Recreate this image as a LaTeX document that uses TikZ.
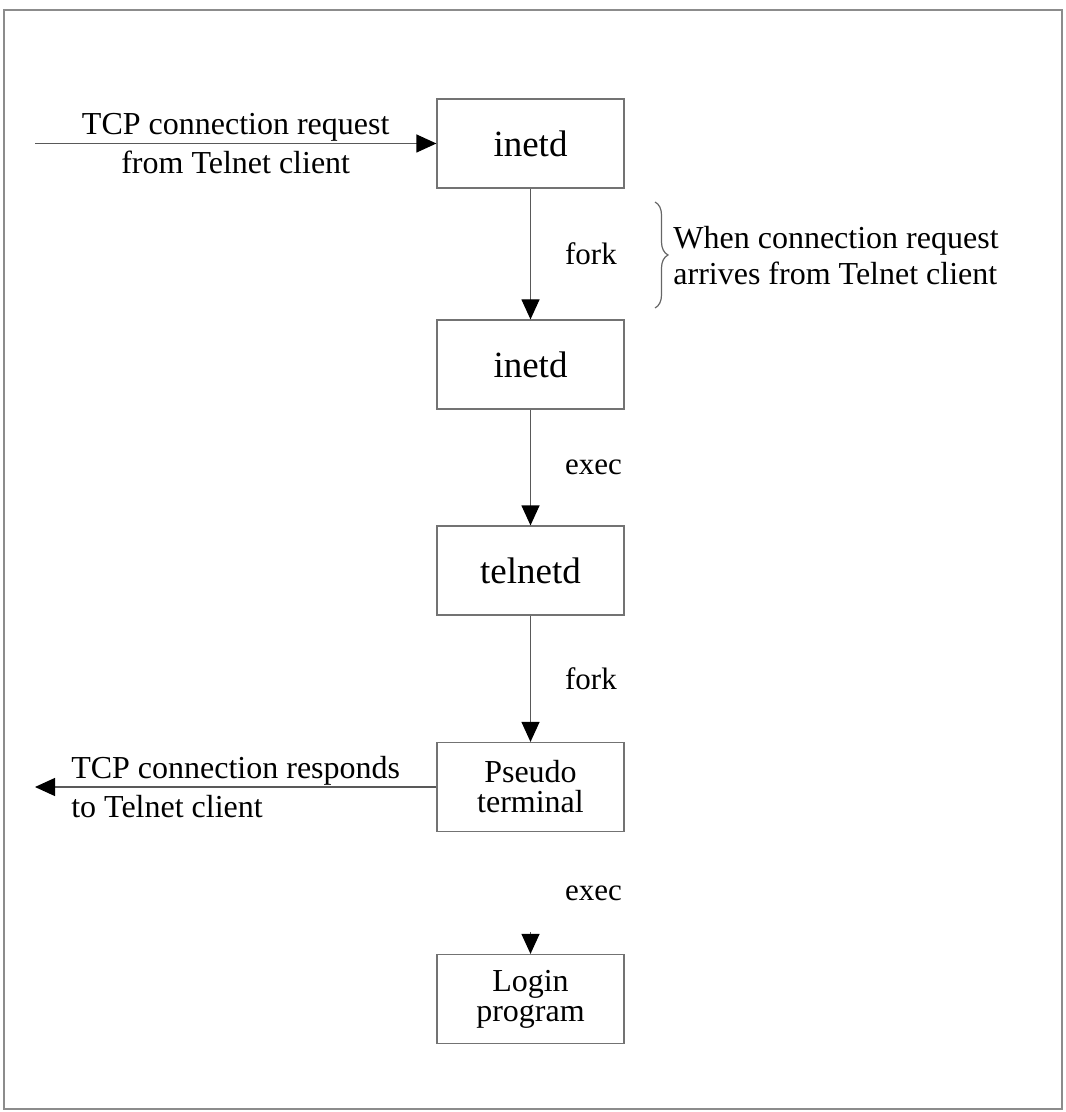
\documentclass[tikz,border=0pt]{standalone}
\usepackage{fontspec}
\setmainfont{Liberation Serif}
\usetikzlibrary{arrows.meta,positioning,decorations.pathreplacing}
\tikzstyle{proc} = [draw=black!55, line width=0.6pt, minimum width=93.5pt, minimum height=44.5pt, inner sep=0pt, font=\fontsize{18.5}{22}\selectfont]
\tikzstyle{proctwo} = [proc, align=center, font=\fontsize{16}{15}\selectfont]
\tikzstyle{arrow} = [draw=black!65, line width=0.6pt, -{Triangle[length=10pt,width=9pt,color=black]}]
\tikzstyle{lbl} = [font=\fontsize{15.5}{15}\selectfont, inner sep=0pt]
\tikzstyle{side} = [lbl, font=\fontsize{16}{19.5}\selectfont]

\begin{document}
\begin{tikzpicture}[x=0.5pt, y=-0.5pt]
\useasboundingbox (0,0) rectangle (1065,1112);
% Frame
\draw[black!45, line width=0.6pt] (4,10) rectangle (1062,1109);

% Processes
\node[proc] (inetd) at (530.5,143.5) {inetd};
\node[proc] (child) at (530.5,364.5) {inetd};
\node[proc] (telnetd) at (530.5,570.5) {telnetd};
\node[proctwo] (pty) at (530.5,787) {Pseudo\\terminal};
\node[proctwo] (login) at (530.5,999) {Login\\program};

% Client side
\coordinate (cin) at (35,143.5);
\coordinate (cout) at (35,787);
\draw[arrow] (cin) -- node[side, align=center] {TCP connection request\\from Telnet client} (inetd);
\draw[arrow] (pty) -- node[side, align=left] {TCP connection responds\\to Telnet client} (cout);

% Steps
\draw[arrow] (inetd) -- node[lbl, right=17pt] {fork} (child);
\draw[arrow] (child) -- node[lbl, right=17pt] {exec} (telnetd);
\draw[arrow] (telnetd) -- node[lbl, right=17pt] {fork} (pty);
\draw[arrow, shorten <=50pt] (pty) -- node[lbl, right=17pt] {exec} (login);

% Note
\coordinate (btop) at (655,202);
\coordinate (bbot) at (655,308);
\draw[black!60, line width=0.6pt, decorate, decoration={brace, amplitude=6.5pt}] (btop) -- (bbot);
\node[lbl, anchor=west, align=left, font=\fontsize{16}{18}\selectfont] (when) at (673,256) {When connection request\\arrives from Telnet client};
\end{tikzpicture}
\end{document}
